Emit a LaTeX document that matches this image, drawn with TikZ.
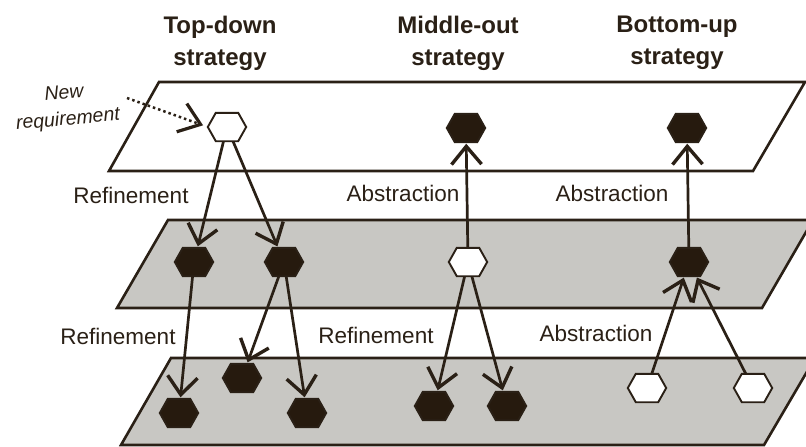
\documentclass[tikz,border=0pt]{standalone}
\usepackage{fontspec}
\setmainfont{Liberation Sans}
\usetikzlibrary{arrows.meta,calc}
\definecolor{ink}{RGB}{42,32,22}
\definecolor{hexfill}{RGB}{38,26,14}
\definecolor{planegray}{RGB}{200,199,195}

\begin{document}
\begin{tikzpicture}[x=1pt,y=-1pt,
  layer/.style={draw=ink,line width=2.6pt,line join=miter},
  hexslot/.style={rectangle,minimum width=38pt,minimum height=28pt,inner sep=0pt},
  link/.style={draw=ink,line width=2.7pt,
    -{Straight Barb[length=18pt,width=30pt,line width=3.4pt]},shorten >=1.5pt},
  title/.style={font=\fontsize{24}{32}\selectfont\bfseries,align=center,text=ink},
  lbl/.style={font=\fontsize{22.5}{26}\selectfont,text=ink},
  note/.style={font=\fontsize{19.5}{22}\selectfont\itshape,text=ink,rotate=5}]
\useasboundingbox (0,0) rectangle (806,447);
\clip (0,0) rectangle (806,447);

% the three abstraction levels
\path[layer,fill=white]     (159,82)  -- (805,82)  -- (753,171) -- (109,171) -- cycle;
\path[layer,fill=planegray] (168,220) -- (813,220) -- (762,308) -- (117,308) -- cycle;
\path[layer,fill=planegray] (171,358) -- (815,358) -- (764,445) -- (121,445) -- cycle;

% requirement slots
\node[hexslot] (t1) at (227,127) {};
\node[hexslot] (t2) at (466,128) {};
\node[hexslot] (t3) at (687,128) {};
\node[hexslot] (m1) at (194,262) {};
\node[hexslot] (m2) at (284,262) {};
\node[hexslot] (m3) at (468,262) {};
\node[hexslot] (m4) at (689,262) {};
\node[hexslot] (b1) at (179,413) {};
\node[hexslot] (b2) at (242,378) {};
\node[hexslot] (b3) at (307,413) {};
\node[hexslot] (b4) at (434,406) {};
\node[hexslot] (b5) at (507,406) {};
\node[hexslot] (b6) at (647,388) {};
\node[hexslot] (b7) at (753,388) {};

% refinement / abstraction links
\draw[link] (t1) -- (m1);
\draw[link] (t1) -- (m2);
\draw[link] (m1) -- (b1);
\draw[link] (m2) -- (b2);
\draw[link] (m2) -- (b3);
\draw[link] (m3) -- (t2);
\draw[link] (m3) -- (b4);
\draw[link] (m3) -- (b5);
\draw[link] (m4) -- (t3);
\draw[link] (b6) -- (m4);
\draw[link] (b7) -- (m4);

% hexagons
\foreach \n/\c in {t1/white,t2/hexfill,t3/hexfill,m1/hexfill,m2/hexfill,m3/white,m4/hexfill,
                   b1/hexfill,b2/hexfill,b3/hexfill,b4/hexfill,b5/hexfill,b6/white,b7/white}{
  \draw[draw=ink,line width=1.9pt,fill=\c,line join=miter]
    (\n.west) -- ($(\n.north west)+(8,0)$) -- ($(\n.north east)+(-8,0)$) --
    (\n.east) -- ($(\n.south east)+(-8,0)$) -- ($(\n.south west)+(8,0)$) -- cycle;
}

% new requirement
\coordinate (nr) at (127,98);
\draw[draw=ink,line width=2.5pt,dash pattern=on 2.5pt off 3pt,
      -{Straight Barb[length=20pt,width=30pt,line width=3.2pt]},shorten >=5pt] (nr) -- (t1.west);
\node[note] (nw) at (64,92) {New};
\node[note] (rq) at (68,120) {requirement};

% column titles
\node[title] (h1) at (220,43) {Top-down\\strategy};
\node[title] (h2) at (458,43) {Middle-out\\strategy};
\node[title] (h3) at (677,43) {Bottom-up\\strategy};

% link labels
\node[lbl] (r1) at (131,195) {Refinement};
\node[lbl] (a1) at (403,193) {Abstraction};
\node[lbl] (a2) at (612,193) {Abstraction};
\node[lbl] (r2) at (118,336) {Refinement};
\node[lbl] (r3) at (376,335) {Refinement};
\node[lbl] (a3) at (596,333) {Abstraction};
\end{tikzpicture}
\end{document}
